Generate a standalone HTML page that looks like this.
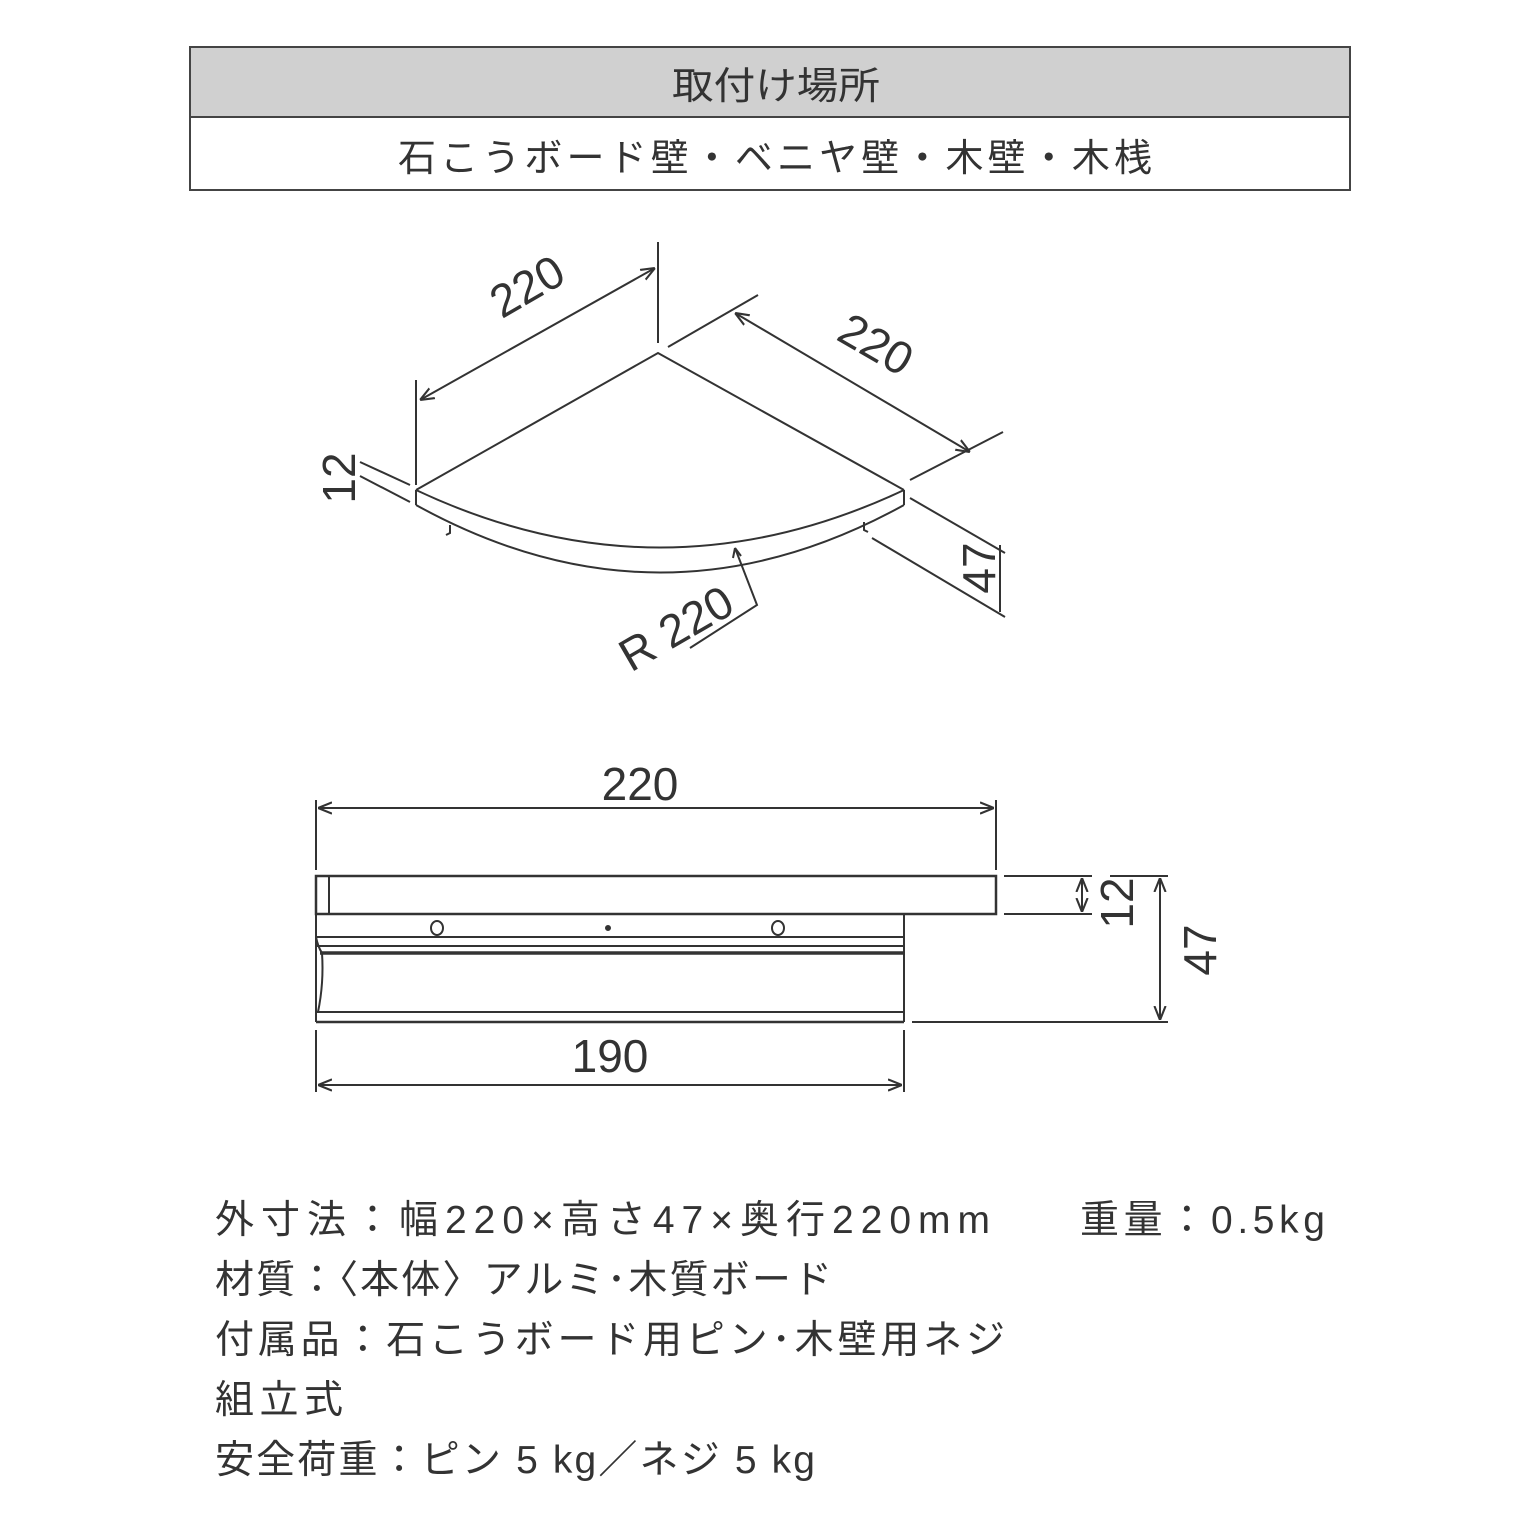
<!DOCTYPE html>
<html><head><meta charset="utf-8"><style>
html,body{margin:0;padding:0;background:#fff;}
svg{display:block}
text{font-family:"Liberation Sans","Noto Sans CJK JP",sans-serif;fill:#333;}
</style></head><body>
<svg width="1536" height="1536" viewBox="0 0 1536 1536" xmlns="http://www.w3.org/2000/svg">
<defs>
<marker id="a" viewBox="0 0 10 10" refX="10" refY="5" markerWidth="14" markerHeight="14" orient="auto-start-reverse" markerUnits="userSpaceOnUse"><path d="M0,1 L10,5 L0,9" fill="none" stroke="#333" stroke-width="1.5"/></marker>
</defs>
<rect x="190" y="47" width="1160" height="70" fill="#d0d0d0" stroke="#444" stroke-width="2"/>
<rect x="190" y="117" width="1160" height="73" fill="#fff" stroke="#444" stroke-width="2"/>
<text x="672" y="99" font-size="38" textLength="208" lengthAdjust="spacingAndGlyphs">取付け場所</text>
<text x="398" y="171" font-size="38" textLength="754" lengthAdjust="spacing">石こうボード壁・ベニヤ壁・木壁・木桟</text>

<g stroke="#333" stroke-width="2" fill="none">
<line x1="658" y1="242" x2="658" y2="343"/>
<line x1="416" y1="380" x2="416" y2="485"/>
<line x1="420" y1="400" x2="655" y2="268" marker-start="url(#a)" marker-end="url(#a)"/>
<line x1="668" y1="347" x2="758" y2="295"/>
<line x1="910" y1="480" x2="1003" y2="432"/>
<line x1="735" y1="313" x2="970" y2="452" marker-start="url(#a)" marker-end="url(#a)"/>
<path d="M416,490 L658,353 L904,490"/>
<path d="M416,490 Q660,605 904,490"/>
<path d="M416,505 Q660,640 904,505"/>
<line x1="416" y1="490" x2="416" y2="505"/>
<line x1="904" y1="490" x2="904" y2="505"/>
<path d="M450,525 l0,8 l-4,2"/>
<path d="M864,522 l0,8 l4,2"/>
<line x1="360" y1="462" x2="410" y2="485"/>
<line x1="360" y1="476" x2="410" y2="502"/>
<line x1="910" y1="498" x2="1005" y2="553"/>
<line x1="872" y1="538" x2="1005" y2="617"/>
<line x1="1000" y1="545" x2="1000" y2="612"/>
<path d="M735,548 L757,605 L690,648" />
<path d="M735,548 l-2,10 M735,548 l6,8"/>
<line x1="316" y1="800" x2="316" y2="870"/>
<line x1="996" y1="800" x2="996" y2="870"/>
<line x1="318" y1="808" x2="994" y2="808" marker-start="url(#a)" marker-end="url(#a)"/>
<rect x="316" y="876" width="680" height="38" stroke-width="2.5"/>
<line x1="329" y1="876" x2="329" y2="914"/>
<line x1="316" y1="914" x2="316" y2="1022"/>
<line x1="904" y1="914" x2="904" y2="1022"/>
<line x1="316" y1="937" x2="904" y2="937"/>
<line x1="316" y1="946" x2="904" y2="946"/>
<line x1="320" y1="953" x2="904" y2="953" stroke-width="3.5"/>
<line x1="316" y1="1012" x2="904" y2="1012"/>
<line x1="316" y1="1022" x2="904" y2="1022" stroke-width="2.5"/>
<path d="M316,937 q2,10 6,16 q2,30 -4,59"/>
<ellipse cx="437" cy="928" rx="6" ry="7"/>
<ellipse cx="778" cy="928" rx="6" ry="7"/>
<circle cx="608" cy="928" r="2" fill="#333"/>
<line x1="1004" y1="876" x2="1092" y2="876"/>
<line x1="1004" y1="914" x2="1092" y2="914"/>
<line x1="1082" y1="878" x2="1082" y2="912" marker-start="url(#a)" marker-end="url(#a)"/>
<line x1="1110" y1="876" x2="1168" y2="876"/>
<line x1="912" y1="1022" x2="1168" y2="1022"/>
<line x1="1160" y1="878" x2="1160" y2="1020" marker-start="url(#a)" marker-end="url(#a)"/>
<line x1="316" y1="1030" x2="316" y2="1092"/>
<line x1="904" y1="1030" x2="904" y2="1092"/>
<line x1="318" y1="1085" x2="902" y2="1085" marker-start="url(#a)" marker-end="url(#a)"/>
</g>
<g font-size="46">
<text transform="translate(535,300) rotate(-30)" text-anchor="middle">220</text>
<text transform="translate(868,358) rotate(30)" text-anchor="middle">220</text>
<text transform="translate(355,478) rotate(-90)" text-anchor="middle">12</text>
<text transform="translate(995,568) rotate(-90)" text-anchor="middle">47</text>
<text transform="translate(684,642) rotate(-30)" text-anchor="middle">R 220</text>
<text x="640" y="800" text-anchor="middle">220</text>
<text transform="translate(1133,903) rotate(-90)" text-anchor="middle">12</text>
<text transform="translate(1216,950) rotate(-90)" text-anchor="middle">47</text>
<text x="610" y="1072" text-anchor="middle">190</text>
</g>
<g font-size="39">
<text x="215" y="1233" textLength="775" lengthAdjust="spacing">外寸法：幅220×高さ47×奥行220mm</text>
<text x="1080" y="1233" textLength="245" lengthAdjust="spacing">重量：0.5kg</text>
<text x="215" y="1293" textLength="617" lengthAdjust="spacing">材質：〈本体〉アルミ･木質ボード</text>
<text x="215" y="1353" textLength="790" lengthAdjust="spacing">付属品：石こうボード用ピン･木壁用ネジ</text>
<text x="215" y="1413" textLength="128" lengthAdjust="spacing">組立式</text>
<text x="215" y="1473" textLength="600" lengthAdjust="spacing">安全荷重：ピン 5 kg／ネジ 5 kg</text>
</g>
</svg>
</body></html>
